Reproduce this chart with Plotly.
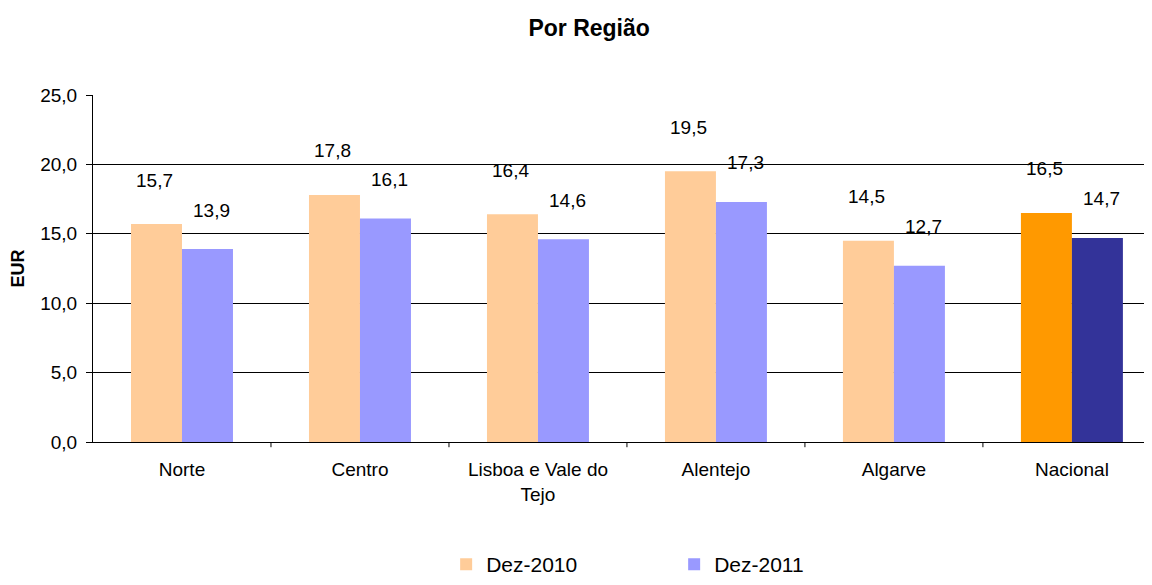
import plotly.graph_objects as go

categories = ["Norte", "Centro", "Lisboa e Vale do<br>Tejo", "Alentejo", "Algarve", "Nacional"]
dez2010 = [15.7, 17.8, 16.4, 19.5, 14.5, 16.5]
dez2011 = [13.9, 16.1, 14.6, 17.3, 12.7, 14.7]
series_names = ["Dez-2010", "Dez-2011"]
colors2010 = ["#FFCC99"] * 5 + ["#FF9900"]
colors2011 = ["#9999FF"] * 5 + ["#333399"]

FONT = "Arial, Liberation Sans, sans-serif"

def fmt(v):
    return f"{v:.1f}".replace(".", ",")

fig = go.Figure()
fig.add_trace(go.Bar(x=list(range(len(categories))), y=dez2010, name=series_names[0],
                     marker=dict(color=colors2010, line=dict(width=0)), offsetgroup="a"))
fig.add_trace(go.Bar(x=list(range(len(categories))), y=dez2011, name=series_names[1],
                     marker=dict(color=colors2011, line=dict(width=0)), offsetgroup="b"))

bar_w = 0.2865
for i, (a, b) in enumerate(zip(dez2010, dez2011)):
    fig.add_annotation(x=i - bar_w / 2, y=a, text=fmt(a), showarrow=False, yshift=44,
                       xshift=-2, font=dict(family=FONT, size=19, color="#000"))
    fig.add_annotation(x=i + bar_w / 2, y=b, text=fmt(b), showarrow=False, yshift=39,
                       xshift=4, font=dict(family=FONT, size=19, color="#000"))

fig.update_layout(
    width=1144, height=577,
    paper_bgcolor="white", plot_bgcolor="white",
    margin=dict(l=85, r=0, t=87, b=143, autoexpand=False),
    barmode="group", bargap=0.427, bargroupgap=0,
    separators=",.",
    font=dict(family=FONT, size=19, color="#000"),
    title=dict(text="<b>Por Região</b>", x=0.508, xref="container", xanchor="center",
               y=0.9653, yref="container", yanchor="middle",
               font=dict(size=23, family=FONT)),
    showlegend=True,
    legend=dict(orientation="h", xref="container", yref="container",
                x=0.383, xanchor="left", y=0.0, yanchor="bottom",
                font=dict(size=21), entrywidth=183, entrywidthmode="pixels",
                itemsizing="constant", traceorder="normal"),
)
fig.update_xaxes(
    range=[-0.5, 5.45], tickmode="array", tickvals=list(range(len(categories))),
    ticktext=categories, showline=True, linecolor="#000", linewidth=1,
    ticks="", showgrid=False, zeroline=False, tickfont=dict(size=19),
    ticklabelstandoff=10, tickangle=0,
)
# boundary tick marks between categories
for k in range(6):
    fig.add_shape(type="line", xref="x", yref="paper", x0=k + 0.5, x1=k + 0.5, y0=0, y1=-0.015,
                  line=dict(color="#000", width=1))
fig.update_yaxes(
    range=[0, 25], dtick=5, tickformat=".1f", showgrid=True, gridcolor="#000", gridwidth=1,
    showline=True, linecolor="#000", linewidth=1, ticks="outside", ticklen=6, tickcolor="#000",
    zeroline=False, tickfont=dict(size=19), ticklabelstandoff=5,
    title=dict(text="<b>EUR</b>", font=dict(size=18), standoff=12),
)

fig.write_html("out.html")
